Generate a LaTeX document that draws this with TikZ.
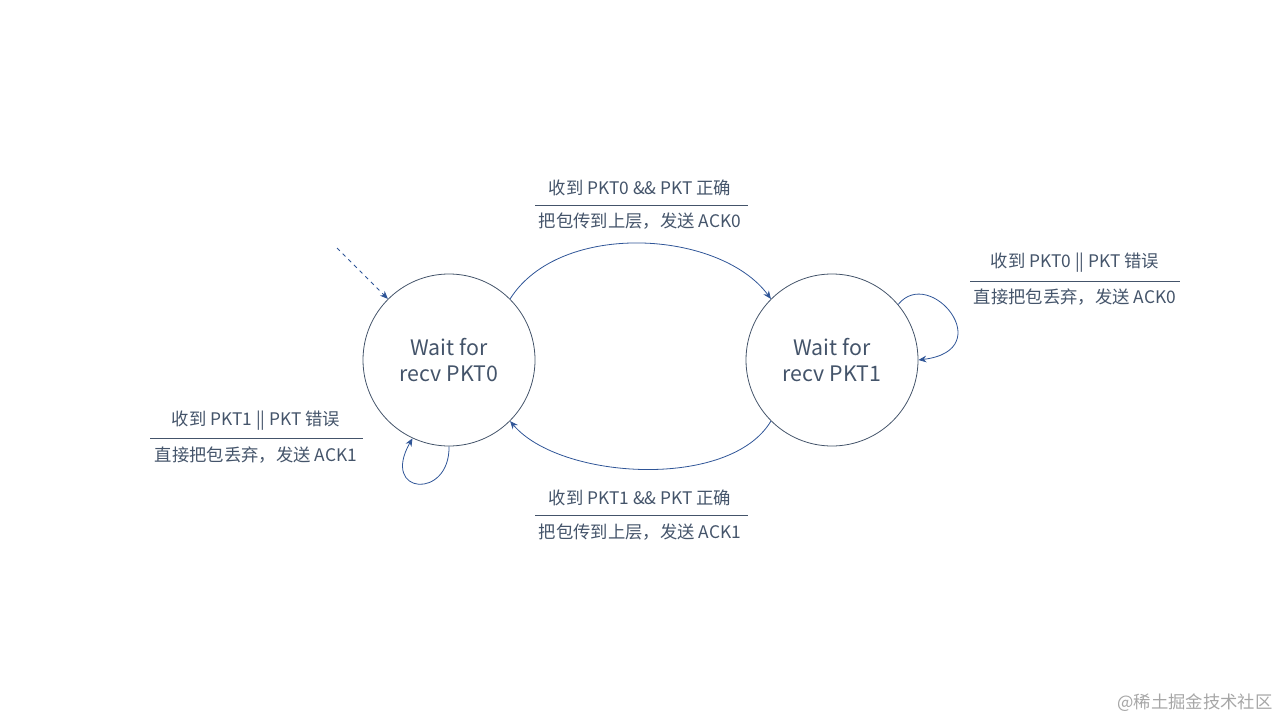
\documentclass[tikz,border=0pt]{standalone}
\usepackage{fontspec}
\setmainfont{Noto Sans CJK SC}
\usetikzlibrary{arrows.meta}
\definecolor{tc}{HTML}{44546A}
\definecolor{lc}{HTML}{2F5597}
\begin{document}
\begin{tikzpicture}[x=0.75pt,y=-0.75pt,
  st/.style={circle,draw=tc,line width=0.6pt,minimum size=129pt,inner sep=0pt,align=center,text=tc,font=\fontsize{16}{20}\selectfont},
  lab/.style={text=tc,font=\fontsize{13}{15}\selectfont,inner sep=1pt},
  arr/.style={draw=lc,line width=0.6pt,-{Stealth[length=6pt,width=5pt]}},
  rule/.style={draw=tc,line width=0.6pt}]
\useasboundingbox (0,0) rectangle (1280,720);
\node[st] (s0) at (449,360) {Wait for\\recv PKT0};
\node[st] (s1) at (832,360) {Wait for\\recv PKT1};
\coordinate (init) at (337,248);
\draw[arr,dashed] (init) -- (s0.135);
\draw[arr] (s0.45) .. controls (560,220) and (720,230) .. (s1.135);
\draw[arr] (s1.-135) .. controls (730,490) and (560,480) .. (s0.-45);
\draw[arr] (s1.40) .. controls (930,265) and (1000,350) .. (s1.0);
\draw[arr] (s0.-90) .. controls (450,500) and (380,495) .. (s0.-115);
% labels
\node[lab] (t1) at (640,188) {收到 PKT0 \&\& PKT 正确};
\node[lab] (t2) at (640,221) {把包传到上层，发送 ACK0};
\coordinate (t1a) at (535,205); \coordinate (t1b) at (748,205);
\draw[rule] (t1a) -- (t1b);
\node[lab] (r1) at (1075,263) {收到 PKT0 || PKT 错误};
\node[lab] (r2) at (1075,297) {直接把包丢弃，发送 ACK0};
\coordinate (r1a) at (970,281); \coordinate (r1b) at (1180,281);
\draw[rule] (r1a) -- (r1b);
\node[lab] (l1) at (256,421) {收到 PKT1 || PKT 错误};
\node[lab] (l2) at (256,455) {直接把包丢弃，发送 ACK1};
\coordinate (l1a) at (150,438); \coordinate (l1b) at (363,438);
\draw[rule] (l1a) -- (l1b);
\node[lab] (b1) at (640,498) {收到 PKT1 \&\& PKT 正确};
\node[lab] (b2) at (640,532) {把包传到上层，发送 ACK1};
\coordinate (b1a) at (535,515); \coordinate (b1b) at (748,515);
\draw[rule] (b1a) -- (b1b);
\node[text=gray!70,font=\fontsize{13}{15}\selectfont] (wm) at (1195,703) {@稀土掘金技术社区};
\end{tikzpicture}
\end{document}
